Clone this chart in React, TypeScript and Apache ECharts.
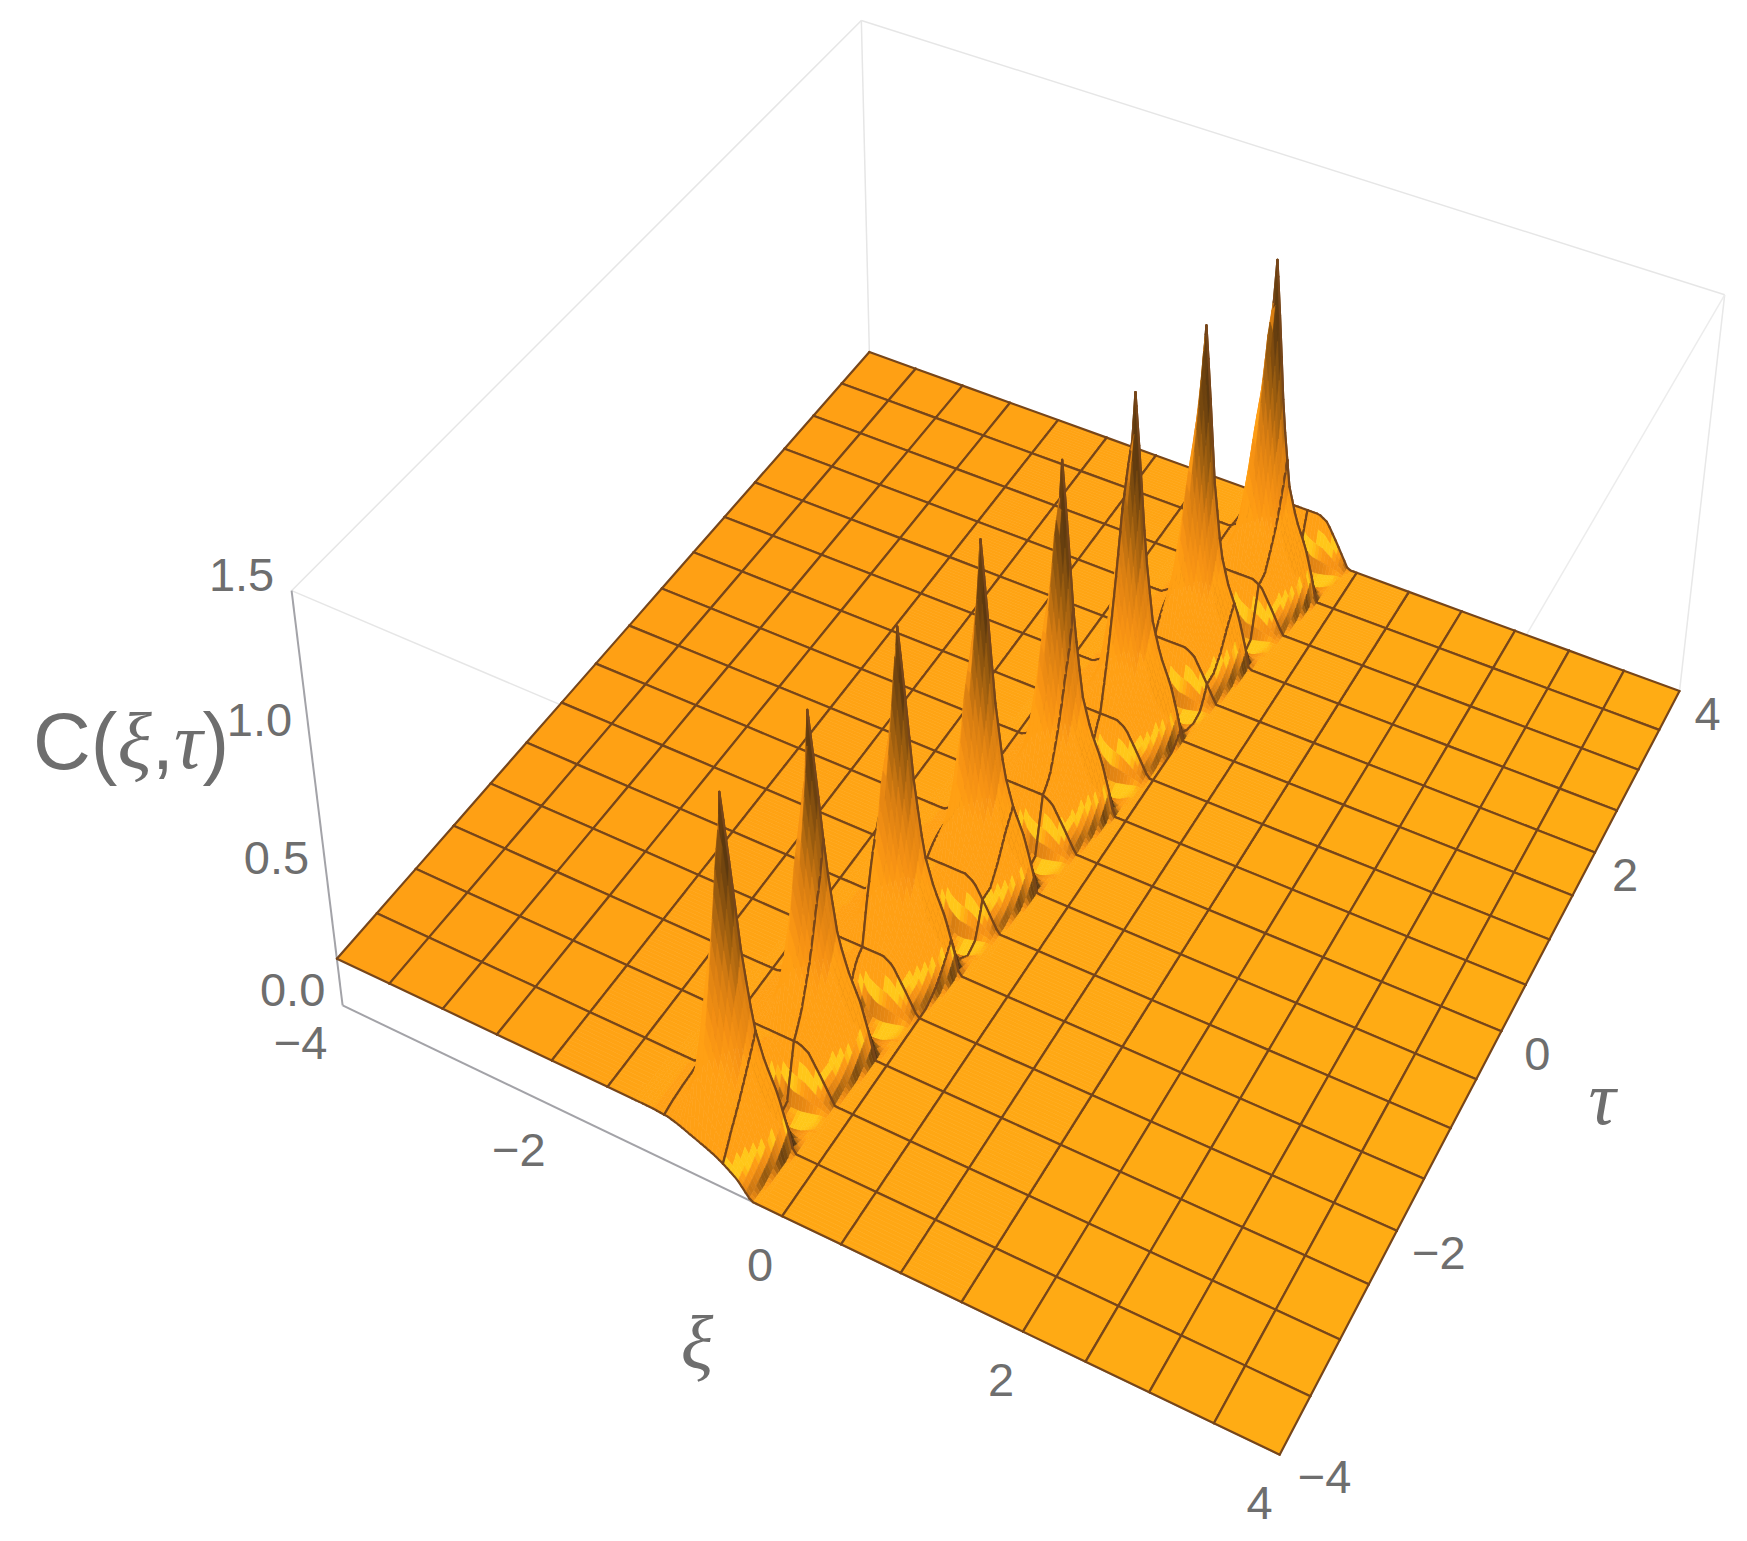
import React, { useEffect, useRef } from "react";
import * as echarts from "echarts";

const W = 1747;
const H = 1541;

// tick labels
const xiTicks = [-4, -2, 0, 2, 4];
const tauTicks = [-4, -2, 0, 2, 4];
const zTicks = ["0.0", "0.5", "1.0", "1.5"];
const zTickValues = [0, 0.5, 1, 1.5];

// spikes
const spikeTau = [-3.5, -2.5, -1.5, -0.5, 0.5, 1.5, 2.5, 3.5];
const spikeXi = [-0.71, -0.6, -0.43, -0.28, -0.11, 0.02, 0.16, 0.33];
const spikeTop = [1.21, 1.19, 1.2, 1.235, 1.26, 1.25, 1.25, 1.26];

// one spike's height table, in local coordinates round its tip
const tileU = [-0.5, -0.35, -0.2, -0.12, -0.06, -0.03, 0, 0.03, 0.06, 0.12, 0.2, 0.28, 0.38, 0.46, 0.5, 0.54];
const tileV = [-0.5, -0.375, -0.25, -0.125, -0.0625, 0, 0.03125, 0.0625, 0.125, 0.25, 0.375, 0.5];
const tileZ = [
  [0.18, 0.18, 0.18, 0.18, 0.18, 0.18, 0.18, 0.18, 0.18, 0.18, 0.18, 0.16, 0.09, 0.03, 0, 0],
  [0.18, 0.18, 0.19, 0.23, 0.3, 0.35, 0.4, 0.38, 0.35, 0.28, 0.2, 0.15, 0.08, 0.03, 0, 0],
  [0.18, 0.18, 0.2, 0.28, 0.42, 0.54, 0.66, 0.6, 0.53, 0.4, 0.27, 0.2, 0.11, 0.04, 0, 0],
  [0.18, 0.18, 0.21, 0.33, 0.56, 0.75, 0.93, 0.85, 0.75, 0.55, 0.34, 0.26, 0.16, 0.06, 0, 0],
  [0.18, 0.18, 0.22, 0.36, 0.65, 0.88, 1.08, 0.98, 0.86, 0.6, 0.38, 0.28, 0.18, 0.07, 0, 0],
  [0.18, 0.18, 0.22, 0.38, 0.72, 0.98, 1.25, 1.12, 0.98, 0.68, 0.42, 0.3, 0.2, 0.08, 0, 0],
  [0.18, 0.18, 0.21, 0.33, 0.56, 0.72, 0.85, 0.78, 0.7, 0.5, 0.32, 0.24, 0.14, 0.05, 0, 0],
  [0.18, 0.18, 0.2, 0.28, 0.42, 0.5, 0.55, 0.5, 0.44, 0.32, 0.2, 0.14, 0.07, 0.02, 0, 0],
  [0.18, 0.18, 0.19, 0.23, 0.28, 0.3, 0.3, 0.26, 0.21, 0.12, 0.06, 0.03, 0.01, 0, 0, 0],
  [0.18, 0.18, 0.18, 0.19, 0.19, 0.18, 0.16, 0.1, 0.05, 0, -0.03, -0.04, -0.03, -0.01, 0, 0],
  [0.18, 0.18, 0.18, 0.18, 0.18, 0.18, 0.17, 0.15, 0.1, 0.02, -0.02, -0.02, -0.01, 0, 0, 0],
  [0.18, 0.18, 0.18, 0.18, 0.18, 0.18, 0.18, 0.18, 0.18, 0.18, 0.18, 0.16, 0.09, 0.03, 0, 0],
];
// the surface's front edge rises more slowly than the saddles between spikes
const frontEdgeZ = [0.18, 0.18, 0.175, 0.165, 0.155, 0.15, 0.145, 0.14, 0.135, 0.125, 0.11, 0.09, 0.06, 0.02, 0, 0];

// camera calibration: box corners as seen in the picture
const cal: number[][] = [
  [-4, -4, 0, 343, 1008], [-4, -4, 1.5, 292, 588],
  [4, -4, 0, 1279, 1454], [4, -4, 1.5, 1302, 1020],
  [4, 4, 0, 1679, 691], [4, 4, 1.5, 1726, 295],
  [-4, 4, 0, 871, 393], [-4, 4, 1.5, 860, 22],
];

function solveCamera(): number[] {
  const n = 11;
  const A: number[][] = Array.from({ length: n }, () => new Array(n + 1).fill(0));
  const add = (row: number[], r: number) => {
    for (let i = 0; i < n; i++) {
      for (let j = 0; j < n; j++) A[i][j] += row[i] * row[j];
      A[i][n] += row[i] * r;
    }
  };
  for (const [x, y, z, u, v] of cal) {
    add([x, y, z, 1, 0, 0, 0, 0, -u * x, -u * y, -u * z], u);
    add([0, 0, 0, 0, x, y, z, 1, -v * x, -v * y, -v * z], v);
  }
  for (let i = 0; i < n; i++) {
    let p = i;
    for (let r = i + 1; r < n; r++) if (Math.abs(A[r][i]) > Math.abs(A[p][i])) p = r;
    [A[i], A[p]] = [A[p], A[i]];
    for (let r = 0; r < n; r++) {
      if (r === i) continue;
      const f = A[r][i] / A[i][i];
      for (let c = i; c <= n; c++) A[r][c] -= f * A[i][c];
    }
  }
  return A.map((row, i) => row[n] / row[i]);
}
const P = solveCamera();
function project(x: number, y: number, z: number): [number, number] {
  const d = P[8] * x + P[9] * y + P[10] * z + 1;
  return [(P[0] * x + P[1] * y + P[2] * z + P[3]) / d, (P[4] * x + P[5] * y + P[6] * z + P[7]) / d];
}

function centreXi(t: number): number {
  const n = spikeTau.length;
  let i = 0;
  while (i < n - 2 && t > spikeTau[i + 1]) i++;
  const f = (t - spikeTau[i]) / (spikeTau[i + 1] - spikeTau[i]);
  return spikeXi[i] + f * (spikeXi[i + 1] - spikeXi[i]);
}
function seg(a: number[], v: number): [number, number] {
  if (v <= a[0]) return [0, 0];
  for (let i = 0; i < a.length - 1; i++) {
    if (v <= a[i + 1]) return [i, (v - a[i]) / (a[i + 1] - a[i])];
  }
  return [a.length - 2, 1];
}
const plateau = tileZ[0][0];
function heightAt(x: number, t: number): number {
  let s = 0;
  for (let i = 1; i < spikeTau.length; i++) if (Math.abs(t - spikeTau[i]) < Math.abs(t - spikeTau[s]) - 1e-9) s = i;
  const u = x - centreXi(t);
  const v = t - spikeTau[s];
  if (u <= tileU[0]) return plateau;
  if (u >= tileU[tileU.length - 1]) return 0;
  const [i, fu] = seg(tileU, u);
  const [j, fv] = seg(tileV, v);
  const lowRow = j === 0 && s === 0 ? frontEdgeZ : tileZ[j];
  const z =
    lowRow[i] * (1 - fu) * (1 - fv) + lowRow[i + 1] * fu * (1 - fv) +
    tileZ[j + 1][i] * (1 - fu) * fv + tileZ[j + 1][i + 1] * fu * fv;
  return z > 0.3 ? 0.3 + ((z - 0.3) * (spikeTop[s] - 0.3)) / 0.95 : z;
}

const isMesh = (v: number) => Math.abs(v * 2 - Math.round(v * 2)) < 1e-6;

type Facet = number[];
function buildFacets(): Facet[] {
  const out: Facet[] = [];
  const fineMin = -2;
  const fineMax = 1.5;
  const step = 1 / 32;
  for (let r = 15; r >= 0; r--) {
    const t0 = -4 + r * 0.5;
    const t1 = t0 + 0.5;
    for (let c = 0; c < 16; c++) {
      const x0 = -4 + c * 0.5;
      const x1 = x0 + 0.5;
      if (x1 <= fineMin || x0 >= fineMax) {
        out.push([x0, x1, t0, t1, heightAt(x0, t0), heightAt(x1, t0), heightAt(x1, t1), heightAt(x0, t1)]);
      }
    }
    for (let k = 15; k >= 0; k--) {
      const a = t0 + k * step;
      const b = a + step;
      const lo = Math.min(centreXi(a), centreXi(b)) + tileU[0];
      const hi = Math.max(centreXi(a), centreXi(b)) + tileU[tileU.length - 1] + step;
      const xs: number[] = [];
      for (let x = fineMin; x <= fineMax + 1e-9; x += 0.5) xs.push(x);
      for (let q = Math.floor(lo / step); q * step <= hi; q++) xs.push(q * step);
      spikeTau.forEach((st, i) => {
        if (st >= a - 1e-9 && st <= b + 1e-9) xs.push(spikeXi[i]);
      });
      xs.sort((p, q) => p - q);
      const uniq = xs.filter((x, i) => i === 0 || x - xs[i - 1] > 1e-6);
      for (let i = 0; i < uniq.length - 1; i++) {
        const x0 = uniq[i];
        const x1 = uniq[i + 1];
        out.push([x0, x1, a, b, heightAt(x0, a), heightAt(x1, a), heightAt(x1, b), heightAt(x0, b)]);
      }
    }
  }
  return out;
}
const facets = buildFacets();

const ramp: number[][] = [
  [-0.3, 55, 38, 20], [0, 95, 58, 15], [0.2, 150, 90, 15], [0.45, 215, 125, 18],
  [0.7, 245, 145, 20], [0.895, 255, 158, 20], [0.96, 255, 185, 20], [1.0, 255, 208, 28],
];
const light = [-0.3, -0.3, 0.9];
const zScale = 2.13;
function shade(f: Facet): string {
  const [x0, x1, t0, t1, z00, z10, z11, z01] = f;
  const ax = x1 - x0, ay = t1 - t0, az = (z11 - z00) * zScale;
  const bx = x0 - x1, by = t1 - t0, bz = (z01 - z10) * zScale;
  let nx = ay * bz - az * by, ny = az * bx - ax * bz, nz = ax * by - ay * bx;
  const len = Math.hypot(nx, ny, nz) || 1;
  nx /= len; ny /= len; nz /= len;
  let d = nx * light[0] + ny * light[1] + nz * light[2];
  // the steep flanks stay orange low down and turn brown towards the tip
  const zm = (z00 + z10 + z11 + z01) / 4;
  const rise = ny <= 0.1
    ? Math.min(1, Math.max(0, (zm - 0.02) / 0.08))
    : Math.min(1, Math.max(0, (zm - 0.18) / 0.12));
  const steep = Math.min(1, (1 - nz) / 0.35);
  d += 1.1 * Math.max(0, 1 - zm / 1.0) * rise * steep;
  // only the shallow pits catch the yellow highlight
  d = zm > 0.1 ? Math.min(d, 0.9) : Math.min(d, 0.985);
  let i = 0;
  while (i < ramp.length - 2 && d > ramp[i + 1][0]) i++;
  const k = Math.min(1, Math.max(0, (d - ramp[i][0]) / (ramp[i + 1][0] - ramp[i][0])));
  const c = [1, 2, 3].map((q) => ramp[i][q] + k * (ramp[i + 1][q] - ramp[i][q]));
  const flat = nz > 0.999 ? ((x0 + 4) / 8) * 13 : 0;
  return `rgb(${Math.round(c[0])},${Math.round(c[1] + flat)},${Math.round(c[2])})`;
}

const meshColor = "#77461a";
const textColor = "#6e6e6e";

export default function App() {
  const ref = useRef<HTMLDivElement>(null);
  useEffect(() => {
    document.body.style.margin = "0";
    const chart = echarts.init(ref.current!, undefined, { renderer: "svg" });

    const edge = (a: number[], b: number[], color: string, width: number) => ({ a, b, color, width });
    const frame = [
      edge([-4, -4, 1.5], [-4, 4, 1.5], "#e6e6e6", 1.5),
      edge([-4, 4, 1.5], [4, 4, 1.5], "#e6e6e6", 1.5),
      edge([-4, 4, 1.5], [-4, 4, 0], "#e6e6e6", 1.5),
      edge([4, 4, 1.5], [4, 4, 0], "#e8e8e8", 1.5),
      edge([-4, -4, 1.5], [4, -4, 1.5], "#e6e6e6", 1.5),
      edge([4, 4, 1.5], [4, -4, 1.5], "#ececec", 1.5),
      edge([-4, -4, 1.5], [-4, -4, 0], "#a3a3a8", 2),
      edge([-4, -4, 0], [4, -4, 0], "#a3a3a8", 2),
    ];

    const labels: { text: string; at: number[]; dx: number; dy: number }[] = [];
    xiTicks.forEach((v, i) => {
      const off = [[-42, 37], [-37, 42], [-22, 48], [-22, 48], [-20, 48]][i];
      labels.push({ text: String(v).replace("-", "\u2212"), at: [v, -4, 0], dx: off[0], dy: off[1] });
    });
    tauTicks.forEach((v, i) => {
      const off = [[45, 22], [42, 22], [36, 22], [30, 22], [28, 22]][i];
      labels.push({ text: String(v).replace("-", "\u2212"), at: [4, v, 0], dx: off[0], dy: off[1] });
    });
    zTicks.forEach((t, i) => {
      labels.push({ text: t, at: [-4, -4, zTickValues[i]], dx: -50, dy: -16 });
    });

    chart.setOption({
      animation: false,
      backgroundColor: "#ffffff",
      grid: { left: 0, right: 0, top: 0, bottom: 0 },
      xAxis: { type: "value", min: 0, max: W, show: false },
      yAxis: { type: "value", min: 0, max: H, inverse: true, show: false },
      tooltip: { show: false },
      series: [
        {
          type: "custom",
          coordinateSystem: "cartesian2d",
          silent: true,
          clip: false,
          data: frame.map((_, i) => [i]),
          renderItem: (params: any, api: any) => {
            const e = frame[params.dataIndex];
            const p = api.coord(project(e.a[0], e.a[1], e.a[2]));
            const q = api.coord(project(e.b[0], e.b[1], e.b[2]));
            return {
              type: "line",
              shape: { x1: p[0], y1: p[1], x2: q[0], y2: q[1] },
              style: { stroke: e.color, lineWidth: e.width, fill: "none" },
            };
          },
        },
        {
          type: "custom",
          coordinateSystem: "cartesian2d",
          silent: true,
          clip: false,
          progressive: 0,
          data: facets,
          encode: { x: 0, y: 2 },
          renderItem: (params: any, api: any) => {
            const f = facets[params.dataIndex];
            const [x0, x1, t0, t1, z00, z10, z11, z01] = f;
            const p = [
              api.coord(project(x0, t0, z00)),
              api.coord(project(x1, t0, z10)),
              api.coord(project(x1, t1, z11)),
              api.coord(project(x0, t1, z01)),
            ];
            const fill = shade(f);
            const children: any[] = [
              { type: "polygon", shape: { points: p }, style: { fill, stroke: fill, lineWidth: 0.6 } },
            ];
            const line = (a: number[], b: number[]) =>
              children.push({
                type: "line",
                shape: { x1: a[0], y1: a[1], x2: b[0], y2: b[1] },
                style: { stroke: meshColor, lineWidth: 2.2, fill: "none", lineCap: "round" },
              });
            if (isMesh(x0)) line(p[0], p[3]);
            if (isMesh(x1)) line(p[1], p[2]);
            if (isMesh(t0)) line(p[0], p[1]);
            if (isMesh(t1)) line(p[3], p[2]);
            return { type: "group", children };
          },
        },
        {
          type: "custom",
          coordinateSystem: "cartesian2d",
          silent: true,
          clip: false,
          data: labels.map((_, i) => [i]),
          renderItem: (params: any, api: any) => {
            const l = labels[params.dataIndex];
            const p = api.coord(project(l.at[0], l.at[1], l.at[2]));
            return {
              type: "text",
              x: p[0] + l.dx,
              y: p[1] + l.dy,
              style: {
                text: l.text,
                fill: textColor,
                font: '47px "Liberation Sans"',
                textAlign: "center",
                textVerticalAlign: "middle",
              },
            };
          },
        },
      ],
      graphic: [
        {
          type: "text",
          x: 33,
          y: 741,
          style: {
            text: "{s|C(}{i|\u03BE}{s|,}{i|\u03C4}{s|)}",
            rich: {
              s: { font: '80px "Liberation Sans"', fill: textColor },
              i: { font: 'italic 80px "Liberation Serif"', fill: textColor },
            },
            fill: textColor,
            textVerticalAlign: "middle",
          },
        },
        {
          type: "text",
          x: 697,
          y: 1343,
          style: { text: "\u03BE", font: 'italic 76px "Liberation Serif"', fill: textColor, textAlign: "center", textVerticalAlign: "middle" },
        },
        {
          type: "text",
          x: 1602,
          y: 1098,
          style: { text: "\u03C4", font: 'italic 76px "Liberation Serif"', fill: textColor, textAlign: "center", textVerticalAlign: "middle" },
        },
      ],
    });
    return () => chart.dispose();
  }, []);
  return <div ref={ref} style={{ width: W, height: H }} />;
}
